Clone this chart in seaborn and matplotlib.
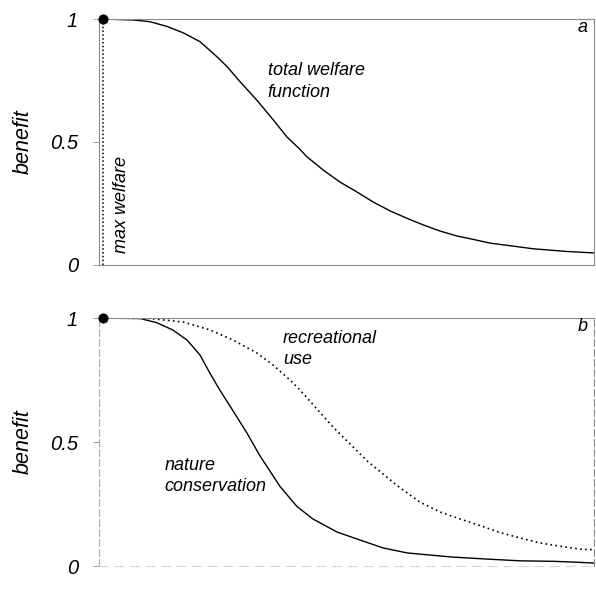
import numpy as np
import matplotlib
matplotlib.use('Agg')
import matplotlib.pyplot as plt
import seaborn as sns

# Values (biomass scaled 0..1, benefit 0..1)
welfare_x = [0.008, 0.069, 0.103, 0.137, 0.170, 0.204, 0.238, 0.259, 0.285,
             0.319, 0.352, 0.380, 0.406, 0.420, 0.453, 0.487, 0.521, 0.554,
             0.588, 0.622, 0.655, 0.689, 0.723, 0.756, 0.790, 0.843, 0.877,
             0.945, 1.000]
welfare_y = [1.0, 0.996, 0.989, 0.970, 0.944, 0.908, 0.847, 0.806, 0.745,
             0.670, 0.590, 0.520, 0.470, 0.440, 0.386, 0.337, 0.297, 0.256,
             0.220, 0.190, 0.163, 0.138, 0.118, 0.104, 0.089, 0.075, 0.066,
             0.055, 0.049]

recreation_x = [0.008, 0.103, 0.170, 0.224, 0.271, 0.319, 0.352, 0.386, 0.406,
                0.473, 0.541, 0.602, 0.648, 0.689, 0.729, 0.770, 0.810, 0.851,
                0.891, 0.931, 0.972, 1.000]
recreation_y = [1.0, 0.998, 0.984, 0.952, 0.911, 0.859, 0.810, 0.750, 0.710,
                0.560, 0.425, 0.325, 0.258, 0.218, 0.190, 0.163, 0.135, 0.113,
                0.093, 0.080, 0.068, 0.066]

nature_x = [0.008, 0.083, 0.117, 0.149, 0.178, 0.204, 0.224, 0.244, 0.271,
            0.299, 0.325, 0.366, 0.400, 0.432, 0.481, 0.527, 0.574, 0.622,
            0.648, 0.715, 0.784, 0.851, 0.917, 0.958, 1.000]
nature_y = [1.0, 0.998, 0.981, 0.952, 0.911, 0.851, 0.778, 0.710, 0.625,
            0.536, 0.445, 0.320, 0.240, 0.190, 0.137, 0.105, 0.073, 0.053,
            0.048, 0.036, 0.028, 0.021, 0.019, 0.016, 0.012]

max_welfare_x = 0.008
y_ticks = [0, 0.5, 1]
y_ticklabels = ['0', '0.5', '1']

sns.set_style('white')
plt.rcParams['font.family'] = ['Liberation Sans', 'DejaVu Sans']
plt.rcParams['font.style'] = 'italic'
plt.rcParams['text.color'] = 'black'

fig = plt.figure(figsize=(5.96, 6.11), dpi=100)
ax_a = fig.add_axes([0.1661, 0.5663, 0.8305, 0.4026])
ax_b = fig.add_axes([0.1661, 0.0736, 0.8305, 0.4059])

spine_col = '#8a8a8a'


def style_axis(ax):
    ax.set_xlim(0, 1)
    ax.set_ylim(0, 1)
    ax.set_xticks([])
    ax.set_yticks(y_ticks)
    ax.set_yticklabels(y_ticklabels, fontsize=14.5, style='italic', color='black')
    ax.tick_params(axis='y', which='both', left=True, length=4, width=0.6,
                   color=spine_col, pad=11)
    for side in ['top', 'right', 'left', 'bottom']:
        ax.spines[side].set_visible(True)
        ax.spines[side].set_color(spine_col)
        ax.spines[side].set_linewidth(0.8)
    ax.set_ylabel('benefit', fontsize=15.5, style='italic', color='black')
    ax.yaxis.set_label_coords(-0.131, 0.5)


# panel a
style_axis(ax_a)
sns.lineplot(x=welfare_x, y=welfare_y, ax=ax_a, color='black', lw=1.0)
ax_a.plot([max_welfare_x, max_welfare_x], [0, 1], color='black', lw=1.1,
          linestyle=(0, (1, 1.5)))
sns.scatterplot(x=[max_welfare_x], y=[1.0], ax=ax_a, color='black', s=45,
                edgecolor='black', zorder=5, clip_on=False)
ax_a.text(0.028, 0.05, 'max welfare', rotation=90, ha='left', va='bottom',
          fontsize=13, style='italic')
ax_a.text(0.341, 0.825, 'total welfare\nfunction', ha='left', va='top',
          fontsize=13, style='italic', linespacing=1.35)
ax_a.text(0.978, 0.967, 'a', ha='center', va='center', fontsize=13,
          style='italic')

# panel b
style_axis(ax_b)
ax_b.spines['left'].set_linestyle((0, (6, 3)))
ax_b.spines['left'].set_color('#aaaaaa')
ax_b.spines['right'].set_linestyle((0, (6, 3)))
ax_b.spines['bottom'].set_color('#d8d8d8')
ax_b.spines['bottom'].set_linestyle((0, (8, 6)))
sns.lineplot(x=recreation_x, y=recreation_y, ax=ax_b, color='black', lw=1.2,
             linestyle=(0, (1, 2)))
sns.lineplot(x=nature_x, y=nature_y, ax=ax_b, color='black', lw=1.0)
sns.scatterplot(x=[max_welfare_x], y=[1.0], ax=ax_b, color='black', s=45,
                edgecolor='black', zorder=5, clip_on=False)
ax_b.text(0.372, 0.952, 'recreational\nuse', ha='left', va='top',
          fontsize=13, style='italic', linespacing=1.35)
ax_b.text(0.133, 0.44, 'nature\nconservation', ha='left', va='top',
          fontsize=13, style='italic', linespacing=1.35)
ax_b.text(0.978, 0.964, 'b', ha='center', va='center', fontsize=13,
          style='italic')
ax_b.set_xlabel('biomass', fontsize=15.5, style='italic', labelpad=12,
                color='black')

fig.savefig('out.png', dpi=100)
